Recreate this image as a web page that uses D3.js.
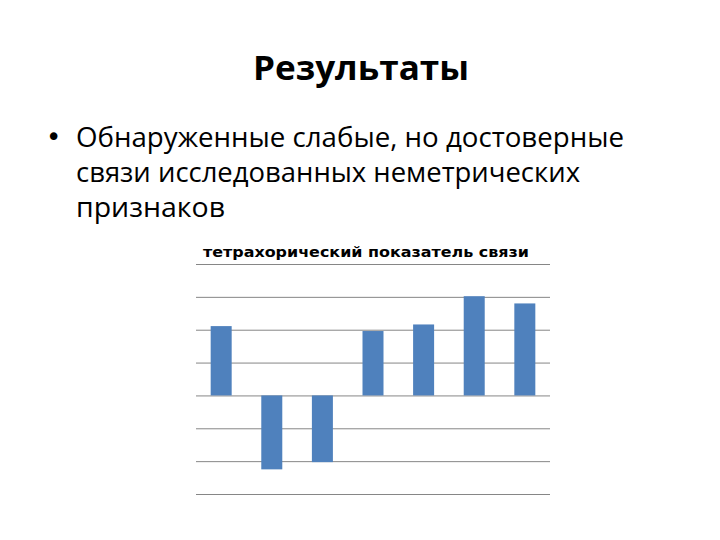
<!DOCTYPE html>
<html>
<head>
<meta charset="utf-8">
<script src="https://cdn.jsdelivr.net/npm/d3@7"></script>
<style>
  body { margin: 0; background: #fff; }
  .slide_title { font-family: "Open Sans", sans-serif; font-weight: bold; font-size: 34px; fill: #000; }
  .bullet_text { font-family: "Open Sans", sans-serif; font-size: 27px; fill: #000; }
  .bullet_dot { font-family: "DejaVu Sans", sans-serif; font-size: 26px; fill: #000; }
  .chart_title { font-family: "DejaVu Sans", sans-serif; font-weight: bold; font-size: 14px; fill: #000; }
</style>
</head>
<body>
<script>
// bar values (tetrachoric coefficient)
var categories = ["1", "2", "3", "4", "5", "6", "7"];
var values = [0.211, -0.225, -0.203, 0.196, 0.216, 0.302, 0.280];
var gridTicks = [-0.3, -0.2, -0.1, 0, 0.1, 0.2, 0.3, 0.4];
var bulletLines = ["Обнаруженные слабые, но достоверные", "связи исследованных неметрических", "признаков"];

var w = 720, h = 540;
var svg = d3.select("body").append("svg").attr("width", w).attr("height", h);

// slide title
svg.append("text").attr("class", "slide_title")
  .attr("x", 361).attr("y", 80).attr("text-anchor", "middle")
  .attr("textLength", 216).attr("lengthAdjust", "spacingAndGlyphs")
  .text("Результаты");

// bullet
svg.append("text").attr("class", "bullet_dot")
  .attr("x", 46).attr("y", 146).text("•");
var lineWidths = [548, 504, 149];
svg.selectAll(".bullet_line").data(bulletLines).enter().append("text")
  .attr("class", "bullet_text")
  .attr("x", 76).attr("y", function(d, i) { return 147 + i * 35; })
  .attr("textLength", function(d, i) { return lineWidths[i]; })
  .attr("lengthAdjust", "spacingAndGlyphs")
  .text(function(d) { return d; });

// chart
var plotLeft = 196, plotRight = 550, plotTop = 264, plotBottom = 494;
var x = d3.scaleBand().domain(categories).range([plotLeft, plotRight]).paddingInner(0.585).paddingOuter(0.29);
var y = d3.scaleLinear().domain([-0.3, 0.4]).range([plotBottom, plotTop]);

svg.append("text").attr("class", "chart_title")
  .attr("x", 366).attr("y", 257).attr("text-anchor", "middle")
  .attr("textLength", 326).attr("lengthAdjust", "spacingAndGlyphs")
  .text("тетрахорический показатель связи");

svg.append("g")
  .attr("transform", "translate(" + plotLeft + ",0)")
  .call(d3.axisLeft(y).tickValues(gridTicks).tickSize(-(plotRight - plotLeft)).tickFormat(""))
  .call(function(g) { g.select(".domain").remove(); })
  .call(function(g) { g.selectAll(".tick line").attr("stroke", "#868686").attr("stroke-width", 1); });

svg.selectAll(".bar").data(values).enter().append("rect")
  .attr("class", "bar")
  .attr("x", function(d, i) { return x(categories[i]); })
  .attr("width", x.bandwidth())
  .attr("y", function(d) { return y(Math.max(0, d)); })
  .attr("height", function(d) { return Math.abs(y(d) - y(0)); })
  .attr("fill", "#4f81bd");
</script>
</body>
</html>
